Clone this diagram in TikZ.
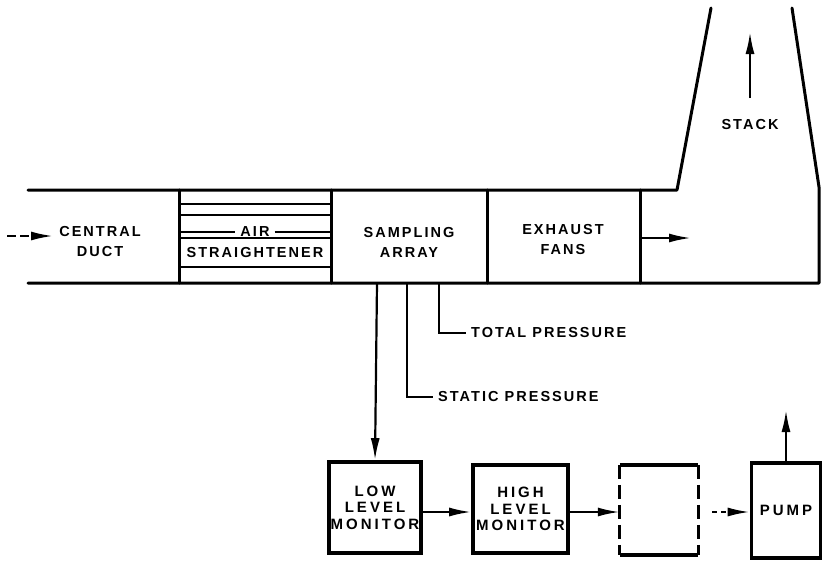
\documentclass[tikz,border=0pt]{standalone}
\usepackage{fontspec}
\setmainfont[LetterSpace=14]{Liberation Sans}
\newfontfamily\wideface[LetterSpace=20]{Liberation Sans}
\usetikzlibrary{arrows.meta}
\begin{document}
\begin{tikzpicture}[x=1pt,y=-1pt,
  duct/.style={line width=3pt, line cap=round, line join=round},
  thinln/.style={line width=2.2pt},
  lbl/.style={font=\fontsize{14.5}{20}\selectfont\bfseries, align=center, inner sep=0pt},
  monbox/.style={draw, line width=3.6pt, inner sep=0pt, align=center,
                 font=\wideface\fontsize{15}{16.5}\selectfont\bfseries},
  arr/.style={line width=2.2pt, -{Latex[length=22pt,width=9pt]}},
]
\fill[white] (0,0) rectangle (825,562);
\useasboundingbox (0,0) rectangle (825,562);

% duct and stack
\draw[duct] (28,190) -- (677,190) -- (711,8);
\draw[duct] (792,8) -- (819,187) -- (819,283) -- (28,283);
\foreach \x in {179,331,487,640} \draw[duct] (\x,190) -- (\x,283);

% air straightener
\node[lbl, inner xsep=5pt] (air) at (255,232) {AIR};
\foreach \y in {204,215,238,267} \draw[thinln] (179,\y) -- (331,\y);
\draw[thinln] (179,232) -- (air.west);
\draw[thinln] (air.east) -- (331,232);
\node[lbl] (straight) at (255,253) {STRAIGHTENER};

% section labels
\node[lbl] (central) at (100,242) {CENTRAL\\DUCT};
\node[lbl] (sampling) at (409,242) {SAMPLING\\ARRAY};
\node[lbl] (exhaust) at (563,240) {EXHAUST\\FANS};
\node[lbl] (stack) at (750,125) {STACK};

% flow arrows in duct
\coordinate (inA) at (7,236);
\coordinate (inB) at (53,236);
\draw[arr, dash pattern=on 9pt off 4pt] (inA) -- (inB);
\coordinate (exA) at (640,238);
\coordinate (exB) at (691,238);
\draw[arr] (exA) -- (exB);
\coordinate (stA) at (750,98);
\coordinate (stB) at (750,32);
\draw[arr] (stA) -- (stB);

% probes
\coordinate (p1) at (377,283);
\coordinate (p2) at (407,283);
\coordinate (p3) at (439,283);
\node[lbl, anchor=west, inner xsep=5pt] (tp) at (466,333) {TOTAL PRESSURE};
\node[lbl, anchor=west, inner xsep=5pt] (sp) at (433,397) {STATIC PRESSURE};
\draw[thinln] (p3) |- (tp.west);
\draw[thinln] (p2) |- (sp.west);

% monitor chain
\node[monbox, minimum width=92pt, minimum height=91pt] (low) at (375,507.5) {LOW\\LEVEL\\MONITOR};
\node[monbox, minimum width=95pt, minimum height=88pt] (high) at (520.5,509) {HIGH\\LEVEL\\MONITOR};
\node[minimum width=78pt, minimum height=90pt, inner sep=0pt] (filt) at (659,510) {};
\draw[line width=3.6pt] (filt.south west) -- (filt.south east);
\draw[line width=3.6pt] (filt.north west) -- (filt.north east);
\draw[line width=3pt, dash pattern=on 14pt off 6pt] (filt.north west) -- (filt.south west);
\draw[line width=3pt, dash pattern=on 14pt off 6pt] (filt.north east) -- (filt.south east);
\node[monbox, minimum width=69pt, minimum height=95pt] (pump) at (786,510.5) {PUMP};

\coordinate (ay) at (0,512);
\draw[arr] (p1) -- (low.north);
\draw[arr] (low.east |- ay) -- (high.west |- ay);
\draw[arr] (high.east |- ay) -- (filt.west |- ay);
\draw[arr, dash pattern=on 5pt off 4pt] ([xshift=14pt]filt.east |- ay) -- (pump.west |- ay);
\coordinate (pumpOut) at (786,410);
\draw[arr] (pump.north -| pumpOut) -- (pumpOut);
\end{tikzpicture}
\end{document}
